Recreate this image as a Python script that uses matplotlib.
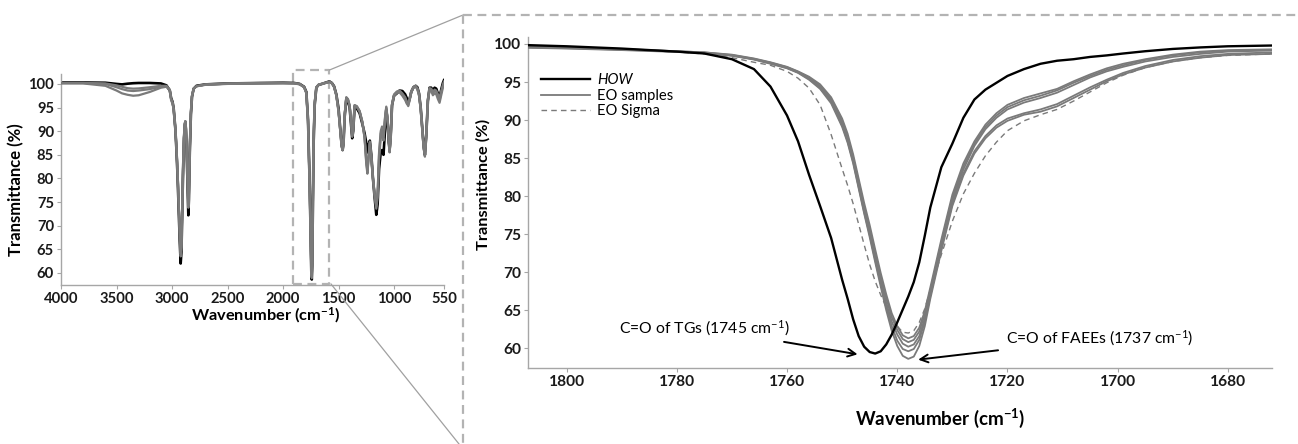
import matplotlib
matplotlib.use("Agg")
import matplotlib.pyplot as plt
from matplotlib.lines import Line2D

plt.rcParams['font.family'] = ['Lato', 'DejaVu Sans']
plt.rcParams['mathtext.fontset'] = 'custom'
plt.rcParams['mathtext.rm'] = 'Lato'
plt.rcParams['mathtext.bf'] = 'Lato:bold'
plt.rcParams['mathtext.it'] = 'Lato:italic'

# ---------------- full spectrum (left panel) ----------------
L_WN = [4000, 3800, 3600, 3500, 3450, 3400, 3350, 3300, 3200, 3100,
        3050, 3020, 3008, 2995, 2985, 2970, 2960, 2950, 2940, 2930,
        2922, 2915, 2908, 2900, 2892, 2885, 2880, 2875, 2868, 2860,
        2853, 2848, 2840, 2830, 2820, 2805, 2780, 2700, 2500, 2200,
        2000, 1900, 1850, 1810, 1790, 1775, 1760, 1750, 1745, 1741,
        1737, 1732, 1725, 1715, 1700, 1680, 1650, 1600, 1580, 1560,
        1540, 1520, 1500, 1485, 1472, 1463, 1455, 1445, 1430, 1415,
        1400, 1388, 1377, 1368, 1355, 1335, 1310, 1285, 1265, 1250,
        1240, 1230, 1218, 1205, 1190, 1175, 1160, 1148, 1135, 1120,
        1108, 1095, 1082, 1070, 1058, 1047, 1040, 1030, 1018, 1000,
        975, 950, 925, 900, 885, 872, 860, 845, 825, 805,
        790, 775, 760, 750, 741, 733, 722, 710, 695, 680,
        665, 650, 635, 620, 605, 590, 575, 560, 550]

L_HOW = [100.3, 100.3, 100.25, 100.0, 99.9, 100.05, 100.15, 100.2, 100.2, 100.1,
         99.7, 98.6, 97.0, 96.2, 94.8, 90.5, 86.0, 80.5, 73.5, 66.5,
         62.0, 64.5, 72.5, 82.0, 88.5, 91.3, 92.0, 90.5, 86.0, 78.5,
         72.2, 75.5, 85.5, 93.5, 97.3, 99.0, 99.6, 99.9, 100.1, 100.2,
         100.25, 100.2, 100.0, 99.4, 98.3, 92.5, 79.0, 66.0, 60.0, 58.6,
         61.5, 72.0, 87.0, 95.5, 99.2, 99.8, 100.0, 100.4, 100.5, 100.2,
         99.5, 97.8, 94.8, 90.5, 87.0, 86.0, 87.5, 93.0, 96.8, 96.3,
         95.0, 91.5, 88.5, 90.0, 95.2, 94.8, 93.8, 91.5, 89.5, 87.5,
         85.5, 87.0, 88.0, 85.0, 80.0, 76.0, 72.3, 74.5, 82.0, 85.5,
         86.0, 85.0, 90.0, 94.5, 92.0, 87.5, 86.0, 89.0, 95.5, 97.5,
         98.0, 98.6, 98.5, 97.8, 97.0, 96.0, 96.8, 98.3, 99.3, 99.6,
         99.3, 98.0, 95.0, 92.0, 89.0, 86.8, 85.0, 89.0, 96.5, 99.2,
         99.2, 98.6, 99.2, 99.0, 98.0, 97.2, 98.8, 100.2, 100.8]

L_EO_A = [100.1, 100.1, 99.6, 98.6, 98.0, 97.7, 97.5, 97.6, 98.3, 99.2,
          99.4, 98.6, 96.5, 95.8, 94.5, 90.5, 86.5, 81.5, 75.0, 68.5,
          64.5, 66.0, 73.5, 82.5, 88.8, 91.5, 92.1, 90.8, 86.8, 80.0,
          74.5, 77.0, 86.5, 94.0, 97.5, 99.0, 99.5, 99.8, 100.0, 100.1,
          100.1, 100.1, 99.9, 99.3, 98.0, 92.0, 78.0, 65.5, 60.2, 59.2,
          62.5, 73.5, 88.0, 96.0, 99.3, 99.8, 100.0, 100.3, 100.4, 100.1,
          99.3, 97.5, 94.0, 90.0, 86.8, 86.0, 87.5, 93.5, 97.2, 96.8,
          95.5, 92.5, 89.0, 90.5, 95.5, 95.3, 94.3, 92.0, 88.5, 83.0,
          81.0, 84.0, 87.5, 84.5, 80.0, 76.5, 74.0, 76.5, 85.0, 89.5,
          90.5, 89.0, 92.5, 95.0, 92.5, 88.0, 85.5, 88.5, 95.5, 97.5,
          98.2, 98.4, 97.8, 97.0, 96.0, 95.3, 96.5, 98.3, 99.3, 99.5,
          99.0, 97.8, 94.8, 91.8, 88.8, 86.5, 84.8, 89.0, 96.5, 99.0,
          98.8, 98.0, 98.5, 98.3, 97.5, 96.5, 98.2, 99.6, 100.3]

L_EO_B = [100.2, 100.2, 100.0, 99.3, 98.9, 98.6, 98.5, 98.6, 98.9, 99.4,
          99.5, 98.7, 96.8, 96.0, 94.6, 90.5, 86.3, 81.0, 74.5, 67.8,
          63.5, 65.3, 73.0, 82.3, 88.6, 91.4, 92.0, 90.6, 86.5, 79.5,
          73.8, 76.5, 86.0, 93.8, 97.4, 99.0, 99.5, 99.85, 100.05, 100.15,
          100.2, 100.15, 99.95, 99.3, 98.1, 92.2, 78.3, 65.6, 60.0, 58.9,
          62.2, 73.0, 87.6, 95.8, 99.2, 99.8, 100.0, 100.35, 100.45, 100.15,
          99.4, 97.6, 94.2, 90.2, 86.9, 86.0, 87.4, 93.3, 97.0, 96.6,
          95.3, 92.2, 88.8, 90.3, 95.4, 95.1, 94.1, 91.8, 88.8, 84.0,
          82.0, 84.8, 87.8, 84.8, 80.0, 76.2, 73.6, 76.0, 84.0, 88.5,
          89.5, 88.0, 91.8, 94.8, 92.3, 87.8, 85.6, 88.6, 95.5, 97.5,
          98.1, 98.2, 97.5, 96.6, 95.8, 95.5, 96.6, 98.2, 99.2, 99.4,
          98.8, 97.5, 94.6, 91.6, 88.6, 86.3, 84.6, 88.8, 96.3, 98.8,
          98.5, 97.6, 98.0, 97.8, 96.8, 96.0, 97.6, 99.2, 100.0]

L_EO_C = [100.2, 100.2, 100.1, 99.7, 99.4, 99.1, 99.0, 99.05, 99.3, 99.6,
          99.6, 98.8, 96.9, 96.1, 94.7, 90.6, 86.4, 81.2, 74.8, 68.2,
          64.0, 65.6, 73.2, 82.4, 88.7, 91.5, 92.1, 90.7, 86.6, 79.8,
          74.2, 76.8, 86.2, 93.9, 97.4, 99.0, 99.5, 99.9, 100.1, 100.2,
          100.2, 100.15, 100.0, 99.35, 98.15, 92.3, 78.5, 65.8, 60.3, 59.5,
          62.8, 73.6, 88.0, 96.0, 99.3, 99.85, 100.05, 100.4, 100.5, 100.2,
          99.4, 97.7, 94.4, 90.4, 87.2, 86.3, 87.6, 93.4, 97.1, 96.7,
          95.4, 92.3, 89.2, 90.6, 95.5, 95.2, 94.2, 91.9, 88.4, 83.5,
          81.5, 84.3, 87.6, 84.6, 80.2, 76.8, 74.5, 77.0, 85.5, 90.0,
          91.0, 89.5, 92.8, 95.2, 92.8, 88.3, 86.0, 89.0, 95.8, 97.8,
          98.4, 98.6, 98.0, 97.2, 96.3, 95.8, 96.9, 98.5, 99.4, 99.6,
          99.1, 98.0, 95.0, 92.0, 89.0, 86.7, 85.1, 89.3, 96.7, 99.1,
          99.0, 98.3, 98.8, 98.6, 97.8, 97.0, 98.5, 99.8, 100.5]

L_XTICKS = [4000, 3500, 3000, 2500, 2000, 1500, 1000, 550]

# ---------------- carbonyl region (right panel) ----------------
Z_WN = [1807, 1800, 1790, 1780, 1775, 1770, 1766, 1763, 1760, 1758,
        1756, 1754, 1752, 1750, 1749, 1748, 1747, 1746, 1745, 1744,
        1743, 1742, 1741, 1740, 1739, 1738, 1737, 1736, 1735, 1734,
        1732, 1730, 1728, 1726, 1724, 1722, 1720, 1717, 1714, 1711,
        1708, 1705, 1702, 1699, 1695, 1690, 1685, 1680, 1672]

Z_HOW = [99.85, 99.7, 99.4, 99.0, 98.75, 98.0, 96.7, 94.4, 90.6, 87.2,
         82.8, 78.7, 74.5, 69.0, 66.5, 63.8, 61.6, 60.2, 59.5, 59.3,
         59.6, 60.5, 61.8, 63.4, 65.1, 66.8, 68.7, 71.3, 74.8, 78.5,
         83.8, 86.9, 90.3, 92.7, 94.0, 94.9, 95.8, 96.7, 97.4, 97.8,
         98.0, 98.3, 98.5, 98.75, 99.05, 99.35, 99.55, 99.7, 99.8]

Z_EO = [
    [99.5, 99.4, 99.2, 98.95, 98.8, 98.45, 97.95, 97.4, 96.8, 96.2,
     95.3, 94.1, 92.2, 89.1, 87.0, 84.3, 81.0, 77.7, 74.6, 71.3,
     68.1, 65.0, 62.3, 60.3, 59.0, 58.6, 58.9, 60.3, 62.9, 66.5,
     72.8, 78.7, 82.7, 85.6, 87.6, 89.0, 89.9, 90.7, 91.1, 91.8,
     92.9, 94.0, 95.1, 96.0, 96.9, 97.7, 98.2, 98.55, 98.7],
    [99.55, 99.45, 99.25, 99.0, 98.8, 98.5, 98.0, 97.45, 96.85, 96.25,
     95.4, 94.2, 92.4, 89.3, 87.2, 84.5, 81.2, 77.9, 74.9, 71.6,
     68.5, 65.5, 62.9, 61.0, 59.9, 59.6, 59.9, 61.1, 63.5, 66.9,
     73.1, 79.0, 83.0, 85.9, 87.9, 89.3, 90.2, 90.9, 91.4, 92.1,
     93.2, 94.3, 95.3, 96.2, 97.1, 97.9, 98.4, 98.7, 98.9],
    [99.6, 99.5, 99.3, 99.0, 98.85, 98.5, 98.0, 97.5, 96.9, 96.3,
     95.5, 94.4, 92.6, 89.6, 87.5, 84.8, 81.5, 78.2, 75.3, 72.0,
     68.9, 66.0, 63.5, 61.8, 60.6, 60.2, 60.5, 61.6, 63.9, 67.2,
     73.5, 79.4, 83.5, 86.6, 88.8, 90.3, 91.4, 92.3, 92.9, 93.6,
     94.6, 95.6, 96.4, 97.0, 97.7, 98.3, 98.7, 99.0, 99.15],
    [99.6, 99.5, 99.3, 99.05, 98.9, 98.55, 98.05, 97.55, 96.95, 96.35,
     95.6, 94.5, 92.8, 89.9, 87.8, 85.1, 81.9, 78.6, 75.7, 72.5,
     69.4, 66.6, 64.1, 62.4, 61.2, 60.8, 61.1, 62.2, 64.4, 67.6,
     73.9, 79.8, 83.9, 86.9, 89.1, 90.6, 91.7, 92.6, 93.2, 93.9,
     94.9, 95.8, 96.6, 97.2, 97.9, 98.5, 98.9, 99.1, 99.2],
    [99.65, 99.55, 99.35, 99.05, 98.9, 98.6, 98.1, 97.6, 97.0, 96.4,
     95.7, 94.7, 93.0, 90.2, 88.2, 85.5, 82.3, 79.1, 76.2, 73.0,
     69.9, 67.1, 64.6, 62.9, 61.7, 61.3, 61.6, 62.7, 64.9, 68.0,
     74.3, 80.2, 84.3, 87.2, 89.4, 90.9, 92.0, 92.9, 93.5, 94.1,
     95.1, 96.0, 96.8, 97.4, 98.0, 98.6, 99.0, 99.2, 99.3],
]

Z_SIGMA = [99.7, 99.55, 99.3, 98.95, 98.7, 98.2, 97.6, 97.2, 96.4, 95.5,
           94.2, 92.0, 88.1, 83.6, 81.4, 79.0, 76.3, 73.6, 71.0, 68.8,
           67.0, 65.4, 64.0, 62.9, 62.1, 62.0, 62.3, 63.4, 65.2, 67.7,
           72.3, 76.7, 80.3, 83.0, 85.3, 87.1, 88.6, 89.9, 90.7, 91.4,
           92.5, 93.7, 94.9, 95.9, 96.9, 97.7, 98.2, 98.5, 98.7]

Z_XTICKS = [1800, 1780, 1760, 1740, 1720, 1700, 1680]
Y_TICKS = [60, 65, 70, 75, 80, 85, 90, 95, 100]

W, H = 1298, 444
fig = plt.figure(figsize=(W / 100, H / 100), dpi=100)

GRAY = '#7a7a7a'
AXC = '#a6a6a6'
FRAME = '#b3b3b3'


def fx(px):
    return px / W


def fy(py):
    return 1 - py / H


ax1 = fig.add_axes([fx(61), fy(285), (444 - 61) / W, (285 - 74) / H])
ax2 = fig.add_axes([fx(528), fy(368), (1272 - 528) / W, (368 - 37) / H])

# left panel lines
ax1.plot(L_WN, L_HOW, color='black', lw=1.9, zorder=2)
for ser in (L_EO_A, L_EO_B, L_EO_C):
    ax1.plot(L_WN, ser, color=GRAY, lw=1.6, zorder=3)

ax1.set_xlim(4000, 550)
ax1.set_ylim(57.45, 102.1)
ax1.set_xticks(L_XTICKS)
ax1.set_yticks(Y_TICKS)

# right panel lines
ax2.plot(Z_WN, Z_HOW, color='black', lw=1.7, zorder=4, label='HOW')
for i, ser in enumerate(Z_EO):
    ax2.plot(Z_WN, ser, color=GRAY, lw=1.3, zorder=3,
             label='EO samples' if i == 0 else None)
ax2.plot(Z_WN, Z_SIGMA, color=GRAY, lw=1.0, ls=(0, (4, 3)), zorder=3,
         label='EO Sigma')
ax2.set_xlim(1807, 1672)
ax2.set_ylim(57.4, 100.92)
ax2.set_xticks(Z_XTICKS)
ax2.set_yticks(Y_TICKS)

for ax, fs in ((ax1, 10.6), (ax2, 11.2)):
    for s in ('top', 'right'):
        ax.spines[s].set_visible(False)
    for s in ('left', 'bottom'):
        ax.spines[s].set_color(AXC)
        ax.spines[s].set_linewidth(1.0)
    ax.tick_params(axis='both', direction='out', length=3, width=0.8,
                   color=AXC, labelsize=fs, pad=2)
    for lab in ax.get_xticklabels() + ax.get_yticklabels():
        lab.set_fontweight('bold')
        lab.set_color('#1a1a1a')

ax1.set_ylabel('Transmittance (%)', fontsize=12, fontweight='bold')
ax1.yaxis.set_label_coords(-0.095, 0.453)
ax1.set_xlabel(r'Wavenumber (cm$^{\mathbf{-1}}$)', fontsize=11.8, fontweight='bold')
ax1.xaxis.set_label_coords(0.535, -0.098)

ax2.set_ylabel('Transmittance (%)', fontsize=11.8, fontweight='bold')
ax2.yaxis.set_label_coords(-0.05, 0.554)
ax2.set_xlabel(r'Wavenumber (cm$^{\mathbf{-1}}$)', fontsize=13.5, fontweight='bold')
ax2.xaxis.set_label_coords(0.554, -0.118)

leg = ax2.legend(loc='upper left', bbox_to_anchor=(0.0, 0.93), frameon=False,
                 fontsize=10.6, handlelength=3.3, handletextpad=0.5,
                 labelspacing=0.1, borderaxespad=0.5)
for t in leg.get_texts():
    if t.get_text() == 'HOW':
        t.set_fontstyle('italic')

# annotations
ax2.annotate(r'C=O of TGs (1745 cm$^{-1}$)', xy=(1747.2, 59.2), xytext=(1759.5, 62.6),
             ha='right', va='center', fontsize=11.3,
             arrowprops=dict(arrowstyle='->', color='black', lw=1.4,
                             shrinkA=4, shrinkB=0, mutation_scale=14))
ax2.annotate(r'C=O of FAEEs (1737 cm$^{-1}$)', xy=(1736.2, 58.5), xytext=(1720.2, 61.3),
             ha='left', va='center', fontsize=11.3,
             arrowprops=dict(arrowstyle='->', color='black', lw=1.4,
                             shrinkA=4, shrinkB=0, mutation_scale=14))

# zoom indicator rectangle on left panel (data coordinates)
ZOOM_BOX = dict(x0=1907, x1=1583, y0=57.7, y1=102.95)
bx = [ZOOM_BOX['x0'], ZOOM_BOX['x1'], ZOOM_BOX['x1'], ZOOM_BOX['x0'], ZOOM_BOX['x0']]
by = [ZOOM_BOX['y0'], ZOOM_BOX['y0'], ZOOM_BOX['y1'], ZOOM_BOX['y1'], ZOOM_BOX['y0']]
ax1.plot(bx, by, color=FRAME, lw=1.6, ls=(0, (4, 2.5)), clip_on=False, zorder=1)

# connector lines and big dashed frame (figure coordinates)
fig.add_artist(Line2D([fx(329.5), fx(463)], [fy(70), fy(15)], color='#a0a0a0', lw=0.9))
fig.add_artist(Line2D([fx(331), fx(459)], [fy(284), fy(444)], color='#a0a0a0', lw=0.9))
fig.add_artist(Line2D([fx(463), fx(463)], [fy(15), fy(444)], color=FRAME, lw=1.6,
                      ls=(0, (4, 2.5))))
fig.add_artist(Line2D([fx(463), fx(1298)], [fy(15), fy(15)], color=FRAME, lw=1.6,
                      ls=(0, (4, 2.5))))

fig.savefig('out.png', dpi=100)
